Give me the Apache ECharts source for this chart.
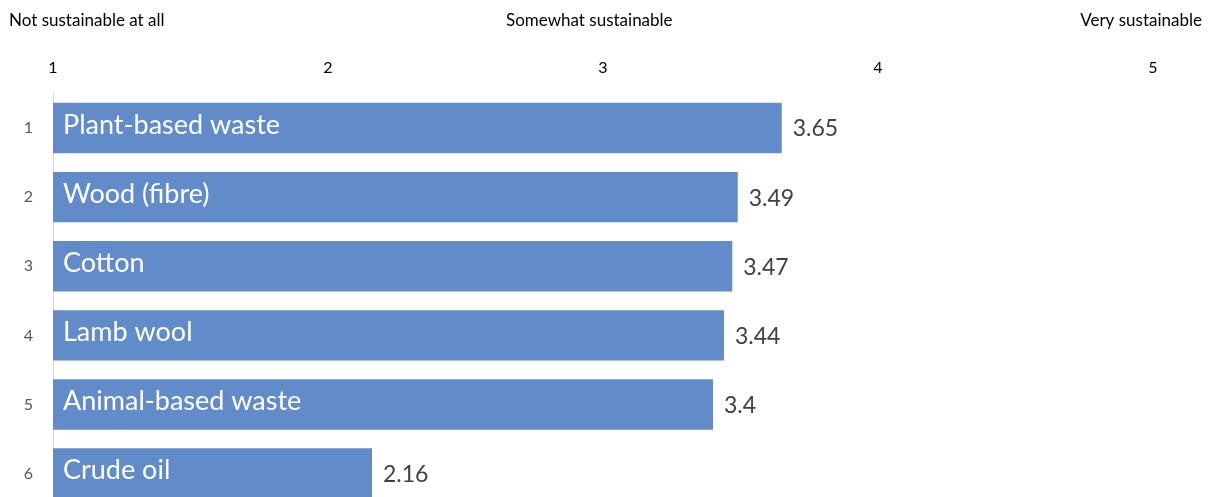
<!DOCTYPE html>
<html>
<head>
<meta charset="utf-8">
<style>
  html, body { margin: 0; padding: 0; background: #ffffff; overflow: hidden; }
  #chart { width: 1210px; height: 530px; }
</style>
<script src="https://cdn.jsdelivr.net/npm/echarts@6/dist/echarts.min.js"></script>
</head>
<body>
<div id="chart"></div>
<script>
// Rank shown on the left axis
const ranks = ['1', '2', '3', '4', '5', '6'];
// Material names written inside each bar
const materials = ['Plant-based waste', 'Wood (fibre)', 'Cotton', 'Lamb wool', 'Animal-based waste', 'Crude oil'];
// Mean sustainability rating (1 = not sustainable at all, 5 = very sustainable)
const ratings = [3.65, 3.49, 3.47, 3.44, 3.4, 2.16];
// Scale anchors printed above the axis
const scaleMin = 1;
const scaleMax = 5;
const anchorTexts = ['Not sustainable at all', 'Somewhat sustainable', 'Very sustainable'];

const FONT = 'Lato, "Open Sans", sans-serif';
const BAR_COLOR = '#628bc9';

const chart = echarts.init(document.getElementById('chart'), null, { renderer: 'canvas' });

// The last row runs past the bottom edge of the visible page
const gridLeft = 53, gridRight = 57, gridTop = 93.5, gridHeight = 414.6;

chart.setOption({
  animation: false,
  backgroundColor: '#ffffff',
  textStyle: { fontFamily: FONT },
  grid: { left: gridLeft, right: gridRight, top: gridTop, height: gridHeight, containLabel: false },
  xAxis: {
    type: 'value',
    position: 'top',
    min: scaleMin,
    max: scaleMax,
    interval: 1,
    axisLine: { show: false },
    axisTick: { show: false },
    splitLine: { show: false },
    axisLabel: { color: '#000000', fontSize: 16, margin: 18, fontFamily: FONT }
  },
  yAxis: {
    type: 'category',
    inverse: true,
    data: ranks,
    axisLine: { show: true, lineStyle: { color: '#d9d9d9', width: 1 } },
    axisTick: { show: false },
    splitLine: { show: false },
    axisLabel: { color: '#595959', fontSize: 16, margin: 20, fontFamily: FONT }
  },
  series: [
    {
      type: 'bar',
      data: ratings,
      barCategoryGap: '27%',
      clip: true,
      itemStyle: { color: BAR_COLOR },
      label: {
        show: true,
        position: 'insideLeft',
        distance: 10,
        offset: [0, -3],
        color: '#ffffff',
        fontSize: 27,
        fontFamily: FONT,
        formatter: p => materials[p.dataIndex]
      }
    },
    {
      type: 'bar',
      data: ratings,
      barGap: '-100%',
      barCategoryGap: '27%',
      clip: true,
      silent: true,
      itemStyle: { color: 'rgba(0,0,0,0)' },
      label: {
        show: true,
        position: 'right',
        distance: 11,
        offset: [0, 1],
        color: '#404040',
        fontSize: 23,
        fontFamily: FONT,
        formatter: p => String(p.value)
      }
    }
  ],
  graphic: [
    { type: 'text', x: 9, y: 21, style: { text: anchorTexts[0], font: '17px ' + FONT, fill: '#000000', textAlign: 'left', textVerticalAlign: 'middle' } },
    { type: 'text', x: 506, y: 21, style: { text: anchorTexts[1], font: '17px ' + FONT, fill: '#000000', textAlign: 'left', textVerticalAlign: 'middle' } },
    { type: 'text', x: 1202, y: 21, style: { text: anchorTexts[2], font: '17px ' + FONT, fill: '#000000', textAlign: 'right', textVerticalAlign: 'middle' } }
  ]
});
</script>
</body>
</html>
